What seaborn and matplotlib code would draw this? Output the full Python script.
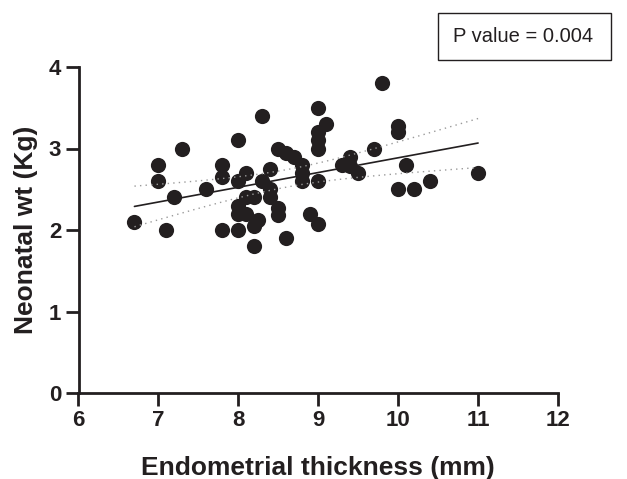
import numpy as np
import pandas as pd
import matplotlib
matplotlib.use("Agg")
import matplotlib.pyplot as plt
import seaborn as sns
from matplotlib.patches import Rectangle

# ---- data ----
thickness = [6.7, 7.0, 7.0, 7.1, 7.2, 7.3, 7.6, 7.8, 7.8, 7.8,
             8.0, 8.0, 8.0, 8.0, 8.0, 8.1, 8.1, 8.1, 8.2, 8.2,
             8.2, 8.25, 8.3, 8.3, 8.4, 8.4, 8.4, 8.5, 8.5, 8.5,
             8.6, 8.6, 8.7, 8.8, 8.8, 8.8, 8.9, 9.0, 9.0, 9.0,
             9.0, 9.0, 9.0, 9.1, 9.3, 9.4, 9.4, 9.5, 9.7, 9.8,
             10.0, 10.0, 10.0, 10.1, 10.2, 10.4, 11.0]
weight = [2.1, 2.8, 2.6, 2.0, 2.4, 3.0, 2.5, 2.8, 2.65, 2.0,
          3.1, 2.6, 2.3, 2.2, 2.0, 2.7, 2.4, 2.2, 2.4, 2.05,
          1.8, 2.12, 3.4, 2.6, 2.75, 2.5, 2.4, 3.0, 2.27, 2.18,
          2.95, 1.9, 2.9, 2.8, 2.7, 2.6, 2.2, 3.5, 3.2, 3.1,
          3.0, 2.6, 2.07, 3.3, 2.8, 2.9, 2.78, 2.7, 3.0, 3.8,
          3.27, 3.2, 2.5, 2.8, 2.5, 2.6, 2.7]
x_ticks = [6, 7, 8, 9, 10, 11, 12]
y_ticks = [0, 1, 2, 3, 4]
p_label = "P value = 0.004"
x_label = "Endometrial thickness (mm)"
y_label = "Neonatal wt (Kg)"

df = pd.DataFrame({"x": thickness, "y": weight})

sns.set_style("ticks")
plt.rcParams["font.family"] = ["Liberation Sans", "DejaVu Sans"]

ink = "#231f20"
fig = plt.figure(figsize=(6.27, 4.79), dpi=100)
ax = fig.add_axes([78.5 / 627, 1 - 393 / 479, 479.5 / 627, 326 / 479])

sns.regplot(data=df, x="x", y="y", ax=ax, ci=None,
            scatter_kws=dict(s=120, color=ink, linewidths=0, alpha=1),
            line_kws=dict(color=ink, lw=1.2))

# 95% confidence band of the fitted line (dotted)
xv = np.asarray(thickness); yv = np.asarray(weight)
n = len(xv)
b1, b0 = np.polyfit(xv, yv, 1)
resid = yv - (b0 + b1 * xv)
s = np.sqrt(np.sum(resid ** 2) / (n - 2))
xs = np.linspace(xv.min(), xv.max(), 100)
se = s * np.sqrt(1 / n + (xs - xv.mean()) ** 2 / np.sum((xv - xv.mean()) ** 2))
t = 2.003
yfit = b0 + b1 * xs
for sign in (1, -1):
    ax.plot(xs, yfit + sign * t * se, color="#9a9a9a", lw=1.0,
            linestyle=(0, (1, 3)))

ax.set_xlim(6, 12)
ax.set_ylim(0, 4)
ax.set_xticks(x_ticks)
ax.set_yticks(y_ticks)
ax.set_xlabel(x_label, fontsize=19, fontweight="bold", color=ink, labelpad=18)
ax.set_ylabel(y_label, fontsize=19, fontweight="bold", color=ink, labelpad=8)

for lab in ax.get_xticklabels() + ax.get_yticklabels():
    lab.set_fontsize(16)
    lab.set_fontweight("bold")
    lab.set_color(ink)

for side in ("top", "right"):
    ax.spines[side].set_visible(False)
for side in ("left", "bottom"):
    ax.spines[side].set_linewidth(2.0)
    ax.spines[side].set_color(ink)
ax.tick_params(axis="both", length=9.5, width=2.0, color=ink, pad=3)

# P value box
fig.patches.append(Rectangle((438 / 627, 1 - 60 / 479), 173 / 627, 47 / 479,
                             transform=fig.transFigure, fill=False,
                             edgecolor=ink, lw=1.0))
fig.text(453 / 627, 1 - 36.5 / 479, p_label, fontsize=14.5, color=ink,
         ha="left", va="center")

fig.savefig("out.png", dpi=100)
